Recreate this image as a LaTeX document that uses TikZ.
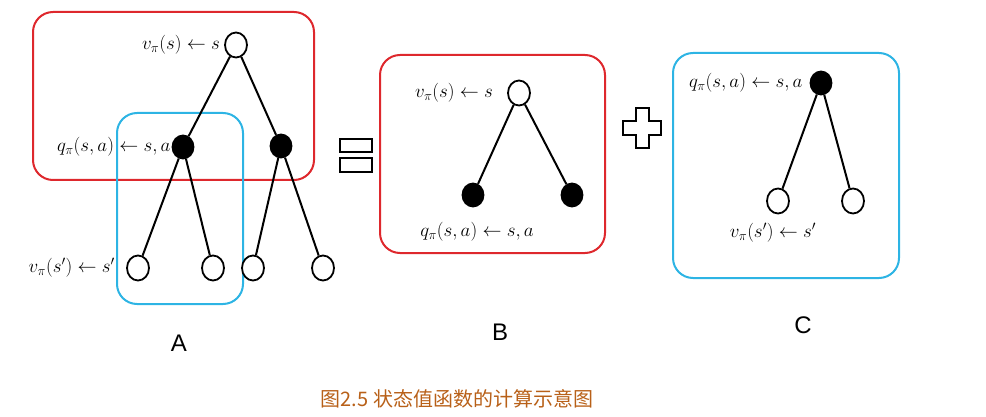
\RequirePackage{fix-cm}
\documentclass[tikz,border=0pt]{standalone}
\usepackage{amsmath}
\usepackage{fontspec}
\setsansfont{Liberation Sans}
\newfontfamily\cjk{Noto Sans CJK SC}
\usetikzlibrary{positioning,shapes.geometric}
\definecolor{boxred}{RGB}{222,40,45}
\definecolor{boxblue}{RGB}{45,180,228}
\definecolor{captext}{RGB}{184,96,24}

\begin{document}
\begin{tikzpicture}[x=1pt,y=-1pt,
    snode/.style={ellipse,draw,line width=1.8pt,fill=white,minimum width=22pt,minimum height=25pt,inner sep=0pt},
    anode/.style={ellipse,draw,line width=1.8pt,fill=black,minimum width=21pt,minimum height=23pt,inner sep=0pt},
    branch/.style={line width=2pt},
    redbox/.style={draw=boxred,line width=2pt,rounded corners=20pt},
    bluebox/.style={draw=boxblue,line width=2pt,rounded corners=20pt},
    lbl/.style={font=\fontsize{19}{21}\selectfont,inner sep=1pt},
    tag/.style={font=\sffamily\fontsize{24}{26}\selectfont},
    bigsign/.style={draw,line width=2pt}]
    \useasboundingbox (0,0) rectangle (986,417);

    % A: the full backup tree
    \draw [redbox] (33,12) rectangle (314,180);
    \draw [bluebox] (117,113) rectangle (243,304);
    \node [snode] (aroot) at (236,45) {};
    \node [anode] (aq1) at (183,147) {};
    \node [anode] (aq2) at (281,146) {};
    \node [snode] (al1) at (138,268) {};
    \node [snode] (al2) at (213,268) {};
    \node [snode] (al3) at (253,268) {};
    \node [snode] (al4) at (323,268) {};
    \draw [branch] (aroot)--(aq1);
    \draw [branch] (aroot)--(aq2);
    \draw [branch] (aq1)--(al1);
    \draw [branch] (aq1)--(al2);
    \draw [branch] (aq2)--(al3);
    \draw [branch] (aq2)--(al4);
    \node [lbl,left=3pt of aroot] {$v_\pi(s)\leftarrow s$};
    \node [lbl,left=0pt of aq1] {$q_\pi(s,a)\leftarrow s,a$};
    \node [lbl,left=10pt of al1] {$v_\pi(s')\leftarrow s'$};
    \node [tag] (tagA) at (179,343) {A};

    % equals and plus signs
    \draw [bigsign] (340,139) rectangle (372,152);
    \draw [bigsign] (340,158) rectangle (372,172);
    \draw [bigsign] (635.5,108)--(648.5,108)--(648.5,121.5)--(661,121.5)--(661,135)--(648.5,135)
        --(648.5,148)--(635.5,148)--(635.5,135)--(623,135)--(623,121.5)--(635.5,121.5)--cycle;

    % B: state to actions
    \draw [redbox] (380,55) rectangle (605,253);
    \node [snode] (broot) at (519,93) {};
    \node [anode] (bq1) at (473,195) {};
    \node [anode] (bq2) at (572,195) {};
    \draw [branch] (broot)--(bq1);
    \draw [branch] (broot)--(bq2);
    \node [lbl,left=13pt of broot] {$v_\pi(s)\leftarrow s$};
    \node [lbl] (bqlbl) at (477,232) {$q_\pi(s,a)\leftarrow s,a$};
    \node [tag] (tagB) at (500,332) {B};

    % C: action to next states
    \draw [bluebox] (673,53) rectangle (899,278);
    \node [anode] (cq) at (821,83) {};
    \node [snode] (cl1) at (778,201) {};
    \node [snode] (cl2) at (853,201) {};
    \draw [branch] (cq)--(cl1);
    \draw [branch] (cq)--(cl2);
    \node [lbl,left=6pt of cq] {$q_\pi(s,a)\leftarrow s,a$};
    \node [lbl] (clbl) at (773,233) {$v_\pi(s')\leftarrow s'$};
    \node [tag] (tagC) at (803,325) {C};

    \node [font=\cjk\fontsize{20}{22}\selectfont,text=captext] (caption) at (457,399) {图2.5 状态值函数的计算示意图};
\end{tikzpicture}
\end{document}
